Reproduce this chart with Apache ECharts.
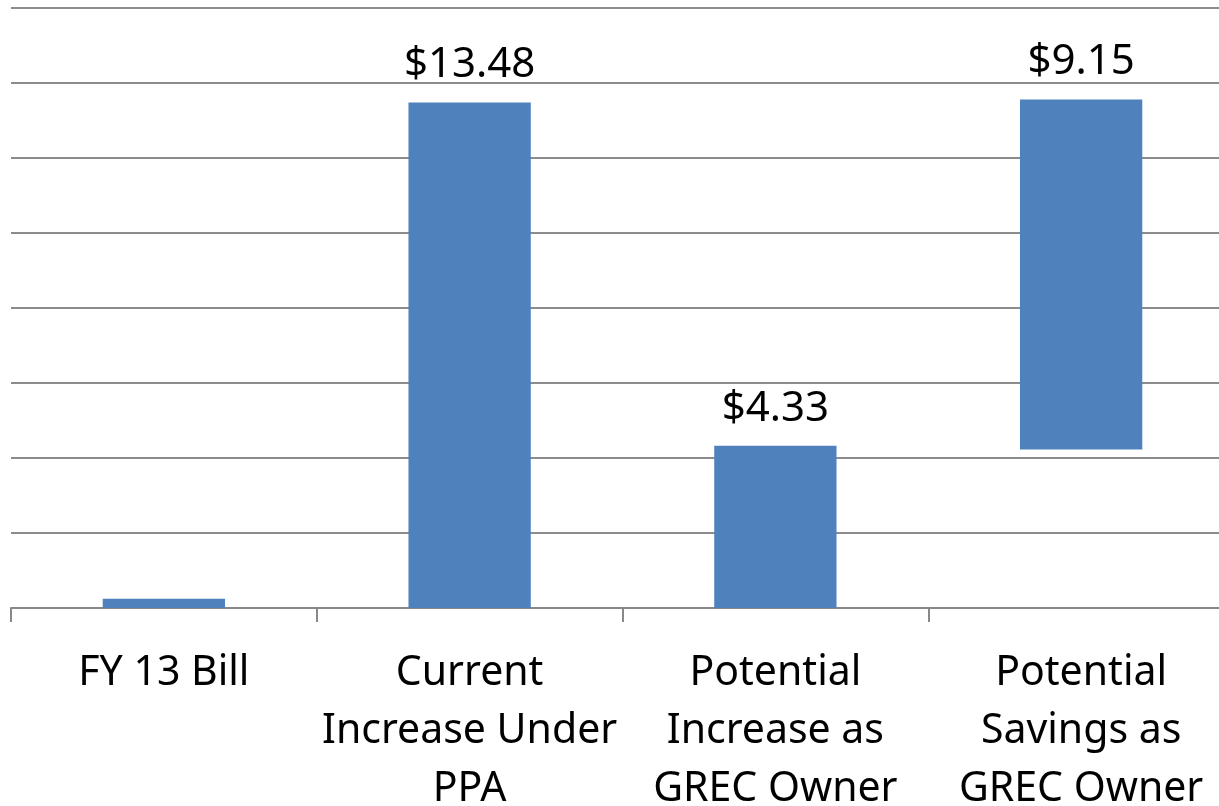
<!DOCTYPE html>
<html>
<head>
<meta charset="utf-8">
<script src="https://cdn.jsdelivr.net/npm/echarts@6/dist/echarts.min.js"></script>
<style>html,body{margin:0;padding:0;background:#fff;}#c{width:1219px;height:806px;}</style>
</head>
<body>
<div id="c"></div>
<script>
var categories = ['FY 13 Bill', 'Current\nIncrease Under\nPPA', 'Potential\nIncrease as\nGREC Owner', 'Potential\nSavings as\nGREC Owner'];
var baseValues = [0, 0, 0, 4.23];
var barValues = [0.25, 13.48, 4.33, 9.33];
var barLabels = ['', '$13.48', '$4.33', '$9.15'];

var chart = echarts.init(document.getElementById('c'), null, {renderer: 'canvas'});
chart.setOption({
  animation: false,
  backgroundColor: '#ffffff',
  grid: {left: 11, right: -15, top: 8, bottom: 198, containLabel: false, outerBoundsMode: 'none'},
  xAxis: {
    type: 'category',
    data: categories,
    axisLine: {lineStyle: {color: '#888888', width: 2}},
    axisTick: {show: true, length: 14, lineStyle: {color: '#888888', width: 2}},
    axisLabel: {
      interval: 0, margin: 36, color: '#000000',
      fontFamily: 'Noto Sans', fontSize: 41, lineHeight: 58
    }
  },
  yAxis: {
    type: 'value', min: 0, max: 16, interval: 2,
    axisLabel: {show: false}, axisLine: {show: false}, axisTick: {show: false},
    splitLine: {lineStyle: {color: '#8c8c8c', width: 2}}
  },
  series: [
    {
      type: 'bar', stack: 'w', data: baseValues, barWidth: '40%',
      itemStyle: {color: 'rgba(0,0,0,0)'}, silent: true
    },
    {
      type: 'bar', stack: 'w', data: barValues, barWidth: '40%',
      itemStyle: {color: '#4F81BD'},
      label: {
        show: true, position: 'top', distance: 16,
        color: '#000000', fontFamily: 'Noto Sans', fontSize: 42,
        formatter: function (p) { return barLabels[p.dataIndex]; }
      }
    }
  ]
});
</script>
</body>
</html>
